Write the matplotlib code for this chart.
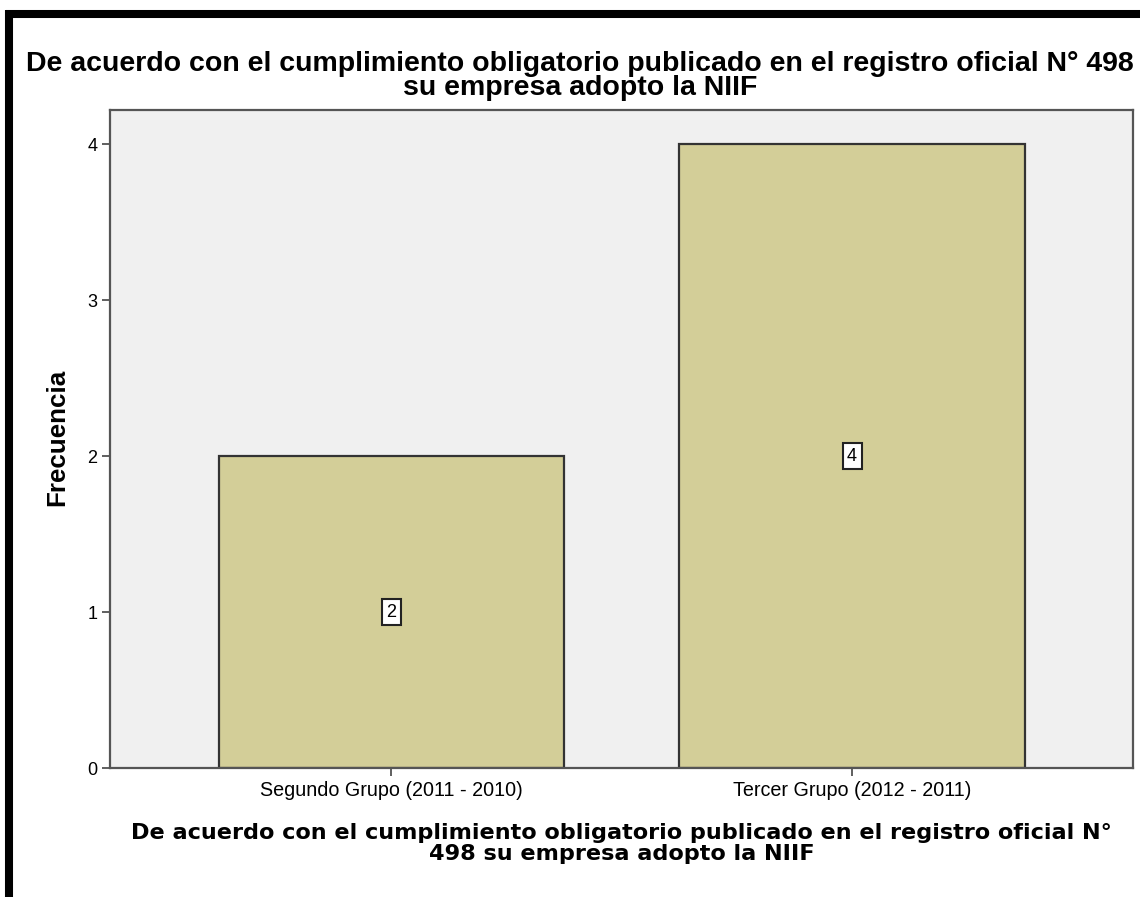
"""Balkendiagramm: Frecuencia por grupo de adopción NIIF."""
import matplotlib
matplotlib.use("Agg")
import matplotlib.pyplot as plt
from matplotlib.lines import Line2D

# Daten
categories = ["Segundo Grupo (2011 - 2010)", "Tercer Grupo (2012 - 2011)"]
frequencies = [2, 4]
y_ticks = [0, 1, 2, 3, 4]

TITLE = ("De acuerdo con el cumplimiento obligatorio publicado en el registro oficial N° 498\n"
         "su empresa adopto la NIIF")
XLABEL = ("De acuerdo con el cumplimiento obligatorio publicado en el registro oficial N°\n"
          "498 su empresa adopto la NIIF")
BAR_COLOR = "#D3CE98"


def main():
    fig = plt.figure(figsize=(11.4, 8.97), dpi=100, facecolor="white")
    ax = fig.add_axes([0.0965, 0.1438, 0.8974, 0.7336])
    ax.set_facecolor("#F0F0F0")

    x = list(range(len(categories)))
    bars = ax.bar(x, frequencies, width=0.75, color=BAR_COLOR,
                  edgecolor="#333333", linewidth=1.6, zorder=2)

    # Werte in der Mitte der Balken
    for bar, val in zip(bars, frequencies):
        ax.text(bar.get_x() + bar.get_width() / 2, val / 2, f"{val}",
                ha="center", va="center", fontsize=13, family="Liberation Sans",
                bbox=dict(boxstyle="square,pad=0.25", facecolor="white",
                          edgecolor="#222222", linewidth=1.5), zorder=3)

    ax.set_xlim(-0.611, 1.61)
    ax.set_ylim(0, 4.22)
    ax.set_yticks(y_ticks)
    ax.set_yticklabels([str(t) for t in y_ticks], family="Liberation Sans", fontsize=13)
    ax.set_xticks(x)
    ax.set_xticklabels(categories, family="Liberation Sans", fontsize=14.2)
    ax.tick_params(axis="both", direction="out", length=6, width=1.2,
                   color="#444444", pad=3)

    for spine in ax.spines.values():
        spine.set_color("#555555")
        spine.set_linewidth(1.6)

    ax.set_ylabel("Frecuencia", family="Liberation Sans", fontweight="bold",
                  fontsize=18.7)
    ax.yaxis.set_label_coords(-0.0513, 0.502)
    ax.yaxis.label.set_va("center")

    ax.set_xlabel(XLABEL, family="DejaVu Sans", fontweight="bold",
                  fontsize=16.1, linespacing=1.02)
    ax.xaxis.set_label_coords(0.5, -0.1147)
    ax.xaxis.label.set_va("center")

    fig.text(0.509, 0.915, TITLE, ha="center", va="center", family="Liberation Sans",
             fontweight="bold", fontsize=20.5, linespacing=0.9)

    # schwarzer Rahmen oben und links
    fig.add_artist(Line2D([0.0053, 1.0], [0.9844, 0.9844], color="black",
                          linewidth=5.8, solid_capstyle="butt", transform=fig.transFigure))
    fig.add_artist(Line2D([0.0083, 0.0083], [0.0, 0.9888], color="black",
                          linewidth=5.8, solid_capstyle="butt", transform=fig.transFigure))

    fig.savefig("out.png", dpi=100, facecolor="white")
    plt.close(fig)


if __name__ == "__main__":
    main()
